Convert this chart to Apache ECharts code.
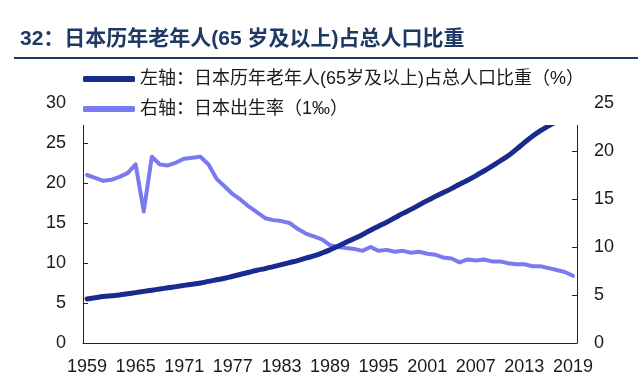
<!DOCTYPE html>
<html>
<head>
<meta charset="utf-8">
<script src="https://cdn.jsdelivr.net/npm/echarts@6/dist/echarts.min.js"></script>
<style>html,body{margin:0;padding:0;background:#fff}#c{width:638px;height:385px}</style>
</head>
<body>
<div id="c"></div>
<script>
const years = [];
for (let y = 1959; y <= 2019; y++) years.push(String(y));

const aged = [5.5,5.65,5.8,5.9,6.0,6.15,6.3,6.45,6.6,6.75,6.9,7.05,7.2,7.35,7.5,7.7,7.9,8.1,8.35,8.6,8.85,9.1,9.3,9.55,9.8,10.05,10.3,10.6,10.9,11.25,11.65,12.1,12.6,13.05,13.55,14.1,14.6,15.1,15.65,16.2,16.7,17.25,17.8,18.3,18.8,19.3,19.85,20.35,20.9,21.5,22.1,22.75,23.4,24.2,25.05,25.85,26.55,27.15,27.7,28.1,28.4];

const birth = [17.5,17.2,16.9,17.0,17.3,17.7,18.6,13.7,19.4,18.6,18.5,18.8,19.2,19.3,19.4,18.6,17.1,16.3,15.5,14.9,14.2,13.6,13.0,12.8,12.7,12.5,11.9,11.4,11.1,10.8,10.2,10.0,9.9,9.8,9.6,10.0,9.6,9.7,9.5,9.6,9.4,9.5,9.3,9.2,8.9,8.8,8.4,8.7,8.6,8.7,8.5,8.5,8.3,8.2,8.2,8.0,8.0,7.8,7.6,7.4,7.0];

const leftTicks = {min: 0, max: 30, interval: 5};
const rightTicks = {min: 0, max: 25, interval: 5};

const titleText = '32：日本历年老年人(65 岁及以上)占总人口比重';
const name1 = '左轴：日本历年老年人(65岁及以上)占总人口比重（%）';
const name2 = '右轴：日本出生率（1‰）';

const FONT = '"Liberation Sans", Arial, "Noto Sans CJK SC", sans-serif';
const DARK = '#1a2b8e';
const LIGHT = '#7a7af0';
const AXC = '#222';

const chart = echarts.init(document.getElementById('c'));
chart.setOption({
  animation: false,
  backgroundColor: '#fff',
  textStyle: {fontFamily: FONT},
  title: {
    text: titleText,
    left: 15, top: 24,
    textStyle: {fontFamily: FONT, fontSize: 21, fontWeight: 'bold', color: '#1f3864'}
  },
  legend: {
    orient: 'vertical',
    left: 78, top: 65,
    z: 10,
    itemWidth: 52, itemHeight: 6,
    itemGap: 12,
    icon: 'roundRect',
    textStyle: {fontFamily: FONT, fontSize: 18, color: '#1a1a1a'},
    data: [name1, name2]
  },
  graphic: [
    {type: 'rect', z: 5, shape: {x: 78, y: 90, width: 506, height: 35}, style: {fill: '#fff'}},
    {type: 'line', z: 5, shape: {x1: 14, y1: 58, x2: 638, y2: 58}, style: {stroke: '#1f3864', lineWidth: 2}}
  ],
  grid: {left: 83, right: 61, top: 103, bottom: 42},
  xAxis: {
    type: 'category',
    data: years,
    boundaryGap: true,
    axisLine: {lineStyle: {color: AXC, width: 1}},
    axisTick: {inside: true, length: 5, interval: 0, lineStyle: {color: AXC}},
    axisLabel: {interval: 5, color: '#1a1a1a', fontSize: 18, margin: 15, fontFamily: FONT},
    splitLine: {show: false}
  },
  yAxis: [
    {
      type: 'value', position: 'left',
      min: leftTicks.min, max: leftTicks.max, interval: leftTicks.interval,
      axisLine: {show: true, lineStyle: {color: AXC, width: 1}},
      axisTick: {show: true, inside: true, length: 5, lineStyle: {color: AXC}},
      axisLabel: {color: '#1a1a1a', fontSize: 18, margin: 17, fontFamily: FONT},
      splitLine: {show: false}
    },
    {
      type: 'value', position: 'right',
      min: rightTicks.min, max: rightTicks.max, interval: rightTicks.interval,
      axisLine: {show: true, lineStyle: {color: AXC, width: 1}},
      axisTick: {show: true, inside: true, length: 5, lineStyle: {color: AXC}},
      axisLabel: {color: '#1a1a1a', fontSize: 18, margin: 17, fontFamily: FONT},
      splitLine: {show: false}
    }
  ],
  series: [
    {
      name: name1, type: 'line', yAxisIndex: 0, data: aged,
      showSymbol: false, symbol: 'none', smooth: 0.5,
      lineStyle: {color: DARK, width: 5, cap: 'round', join: 'round'},
      itemStyle: {color: DARK}, z: 3
    },
    {
      name: name2, type: 'line', yAxisIndex: 1, data: birth,
      showSymbol: false, symbol: 'none',
      lineStyle: {color: LIGHT, width: 4, cap: 'round', join: 'round'},
      itemStyle: {color: LIGHT}, z: 2
    }
  ]
});
</script>
</body>
</html>
